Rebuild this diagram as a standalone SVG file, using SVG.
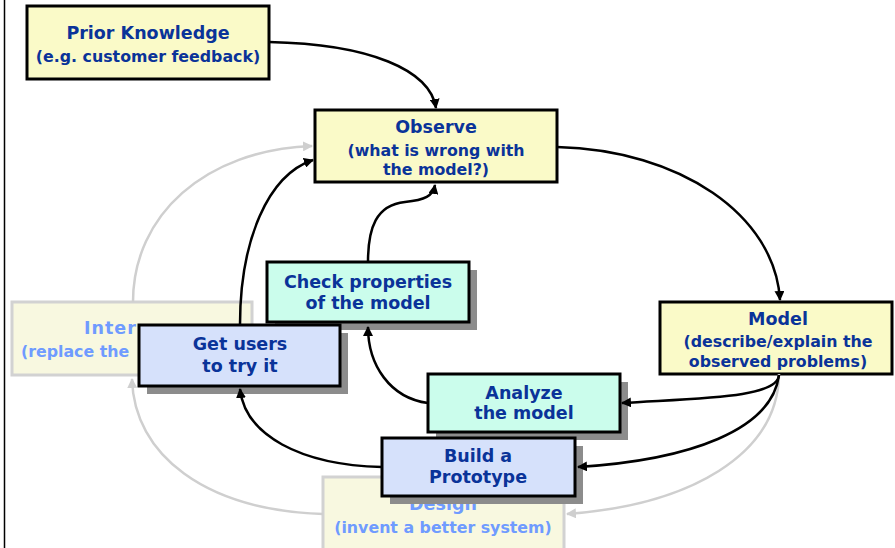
<svg xmlns="http://www.w3.org/2000/svg" width="895" height="548" viewBox="0 0 895 548">
  <defs>
    <marker id="arrow" viewBox="0 0 10 10" refX="9" refY="5" markerWidth="4" markerHeight="4" orient="auto" markerUnits="strokeWidth">
      <path d="M0,0 L10,5 L0,10 z" fill="#000"/>
    </marker>
    <marker id="arrow-faint" viewBox="0 0 10 10" refX="9" refY="5" markerWidth="4" markerHeight="4" orient="auto" markerUnits="strokeWidth">
      <path d="M0,0 L10,5 L0,10 z" fill="#cfcfcf"/>
    </marker>
    <style>
      text { font-family: "DejaVu Sans", Verdana, sans-serif; font-weight: bold; text-anchor: middle; }
      .title { font-size: 17.5px; fill: #0a3399; }
      .sub { font-size: 15.8px; fill: #0a3399; }
      .faint .title, .faint .sub { fill: #6f9bff; }
      .faint .left { text-anchor: start; }
      .box { stroke: #000; stroke-width: 3; }
      .shadow { fill: #8c8c8c; }
      .yellow { fill: #fafac8; }
      .mint { fill: #cbfdec; }
      .lav { fill: #d6e1fb; }
      .faint rect { fill: #f8f8e0; stroke: #d2d2d2; stroke-width: 3; }
      .conn path { fill: none; stroke: #000; stroke-width: 2.5; marker-end: url(#arrow); }
      .conn path.faint-line { stroke: #cfcfcf; marker-end: url(#arrow-faint); }
    </style>
  </defs>

  <rect width="895" height="548" fill="#fff"/>
  <line x1="4.5" y1="0" x2="4.5" y2="548" stroke="#000" stroke-width="1.5"/>

  <!-- faded steps of the outer cycle -->
  <g id="intervene" class="faint">
    <rect x="12" y="302" width="240" height="73"/>
    <text class="title left" x="84" y="334" letter-spacing="1">Inter</text>
    <text class="sub left" x="21" y="357">(replace the</text>
  </g>
  <g id="design" class="faint">
    <rect x="323" y="477" width="241" height="80"/>
    <text class="title" x="443" y="510">Design</text>
    <text class="sub" x="443" y="533">(invent a better system)</text>
  </g>

  <g id="prior-knowledge">
    <rect class="box yellow" x="27" y="6" width="242" height="73"/>
    <text class="title" x="148" y="39">Prior Knowledge</text>
    <text class="sub" x="148" y="62">(e.g. customer feedback)</text>
  </g>

  <g id="observe">
    <rect class="box yellow" x="315" y="110" width="242" height="72"/>
    <text class="title" x="436" y="133">Observe</text>
    <text class="sub" x="436" y="156">(what is wrong with</text>
    <text class="sub" x="436" y="175">the model?)</text>
  </g>

  <g id="model">
    <rect class="box yellow" x="660" y="302" width="232" height="72"/>
    <text class="title" x="778" y="325">Model</text>
    <text class="sub" x="778" y="347">(describe/explain the</text>
    <text class="sub" x="778" y="367">observed problems)</text>
  </g>

  <g id="check-properties">
    <rect class="shadow" x="275" y="270" width="202" height="60"/>
    <rect class="box mint" x="267" y="262" width="202" height="60"/>
    <text class="title" x="368" y="288">Check properties</text>
    <text class="title" x="368" y="309">of the model</text>
  </g>

  <g id="get-users">
    <rect class="shadow" x="147" y="333" width="201" height="61"/>
    <rect class="box lav" x="139" y="325" width="201" height="61"/>
    <text class="title" x="240" y="350">Get users</text>
    <text class="title" x="240" y="372">to try it</text>
  </g>

  <g id="analyze">
    <rect class="shadow" x="436" y="382" width="192" height="58"/>
    <rect class="box mint" x="428" y="374" width="192" height="58"/>
    <text class="title" x="524" y="399">Analyze</text>
    <text class="title" x="524" y="419">the model</text>
  </g>

  <g id="build-prototype">
    <rect class="shadow" x="390" y="446" width="193" height="58"/>
    <rect class="box lav" x="382" y="438" width="193" height="58"/>
    <text class="title" x="478" y="462">Build a</text>
    <text class="title" x="478" y="483">Prototype</text>
  </g>

  <!-- connectors -->
  <g id="connectors" class="conn">
    <path class="faint-line" d="M133,302 C133,215 205,150 312,146"/>
    <path class="faint-line" d="M323,514 C205,510 134,455 132,379"/>
    <path class="faint-line" d="M779,374 C778,455 690,505 567,514"/>
    <path d="M269,42 C370,44 430,70 436,108"/>
    <path d="M557,147 C680,150 775,215 780,300"/>
    <path d="M779,375 C778,398 700,398 622,403"/>
    <path d="M779,375 C772,430 690,460 578,467"/>
    <path d="M428,403 C390,398 368,365 368,327"/>
    <path d="M382,467 C300,465 245,435 240,389"/>
    <path d="M240,325 C240,240 268,175 313,160"/>
    <path d="M368,262 C368,228 376,205 405,202 C425,200 433,196 435,185"/>
  </g>
</svg>
